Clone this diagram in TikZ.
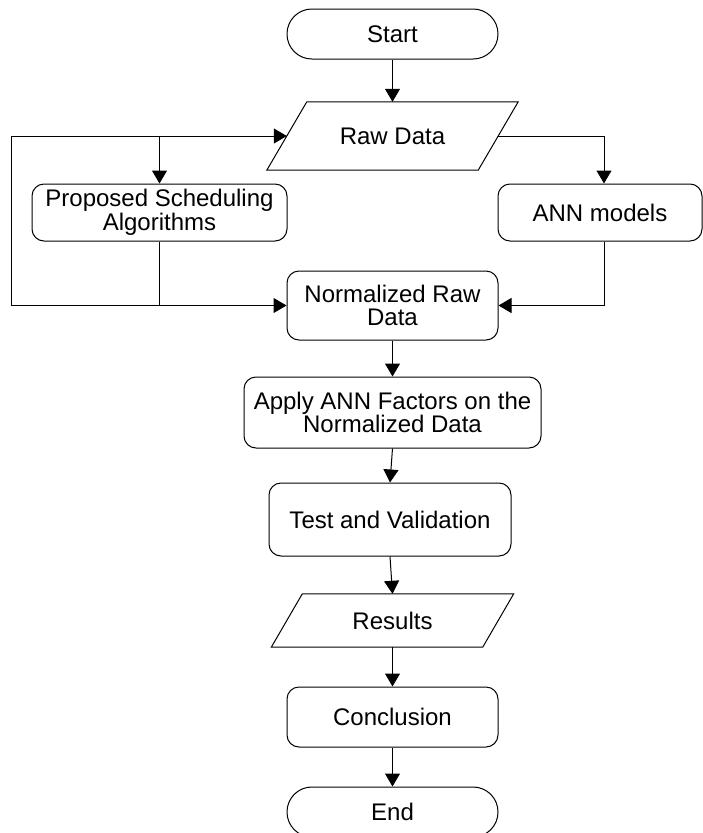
\documentclass[tikz,border=0pt]{standalone}
\usepackage{fontspec}
\setmainfont{Liberation Sans}
\usetikzlibrary{arrows.meta}
\begin{document}
\begin{tikzpicture}[x=1pt,y=-1pt,
  txt/.style={align=center, font=\fontsize{24}{23.5}\selectfont, inner sep=0pt},
  box/.style={txt, draw, line width=1pt, rounded corners=12pt},
  term/.style={txt, draw, line width=1pt, rounded corners=24.9pt, minimum width=211pt, minimum height=50pt},
  io/.style={txt},
  ln/.style={line width=1pt, line join=miter},
  arr/.style={ln, -{Triangle[length=13pt,width=15pt]}}]
\useasboundingbox (0,0) rectangle (702,833);

% nodes
\node[term] (S) at (392.5,34) {Start};
\node[io, minimum width=211pt, minimum height=68pt] (R) at (392.5,136) {Raw Data};
\draw[ln] ([xshift=20pt]R.north west) -- ([xshift=20pt]R.north east)
  -- ([xshift=-20pt]R.south east) -- ([xshift=-20pt]R.south west) -- cycle;
\node[box, minimum width=255pt, minimum height=57pt] (P) at (159.5,212.5) {Proposed Scheduling\\Algorithms};
\node[box, minimum width=204pt, minimum height=57pt] (A) at (600,212.5) {ANN models};
\node[box, minimum width=211pt, minimum height=69pt] (N) at (392.5,305.5) {Normalized Raw\\Data};
\node[box, minimum width=297pt, minimum height=71pt] (AP) at (392.5,412.5) {Apply ANN Factors on the\\Normalized Data};
\node[box, minimum width=242pt, minimum height=73pt] (T) at (390,519.5) {Test and Validation};
\node[io, minimum width=211pt, minimum height=53pt] (Res) at (392.5,620.5) {Results};
\draw[ln] ([xshift=15.5pt]Res.north west) -- ([xshift=15.5pt]Res.north east)
  -- ([xshift=-15.5pt]Res.south east) -- ([xshift=-15.5pt]Res.south west) -- cycle;
\node[box, minimum width=211pt, minimum height=60pt] (C) at (392.5,717) {Conclusion};
\node[term] (E) at (392.5,812) {End};

% helper coordinates
\coordinate (lt) at (11.5,136);
\coordinate (lb) at (11.5,305.5);
\coordinate (ax) at (604,0);

% connectors
\draw[arr] (S) -- (R);
\draw[ln] (lb) -- (lt);
\draw[arr] (lt) -- (R.west);
\draw[arr] (P.north |- R.west) -- (P.north);
\draw[ln] (P.south) -- (P.south |- N.west);
\draw[arr] (lb) -- (N.west);
\draw[arr] (R.east) -| (A.north -| ax);
\draw[arr] (A.south -| ax) |- (N.east);
\draw[arr] (N) -- (AP);
\draw[arr] (AP.south) -- (T.north);
\draw[arr] (T.south) -- (Res.north);
\draw[arr] (Res) -- (C);
\draw[arr] (C) -- (E);
\end{tikzpicture}
\end{document}
